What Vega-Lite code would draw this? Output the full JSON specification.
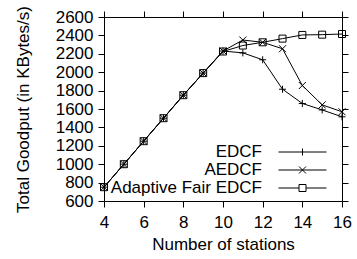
{
  "$schema": "https://vega.github.io/schema/vega-lite/v6.json",
  "width": 238,
  "height": 184,
  "autosize": {"type": "none"},
  "padding": {"left": 104, "top": 17, "right": 15, "bottom": 58},
  "background": "white",
  "config": {
    "view": {"stroke": "black", "strokeWidth": 1},
    "font": "Liberation Sans",
    "axis": {
      "zindex": 1,
      "domain": false,
      "grid": false,
      "ticks": true,
      "tickColor": "black",
      "tickWidth": 1,
      "tickSize": 6,
      "labelFlush": false,
      "labelFont": "Liberation Sans",
      "labelFontSize": 17,
      "labelColor": "black",
      "titleFont": "Liberation Sans",
      "titleFontSize": 17,
      "titleFontWeight": "normal",
      "titleColor": "black"
    },
    "legend": {
      "labelFont": "Liberation Sans",
      "labelFontSize": 17,
      "labelColor": "black"
    }
  },
  "data": {
    "values": [
      {"stations": 4, "series": "EDCF", "goodput": 750},
      {"stations": 5, "series": "EDCF", "goodput": 1000},
      {"stations": 6, "series": "EDCF", "goodput": 1250},
      {"stations": 7, "series": "EDCF", "goodput": 1500},
      {"stations": 8, "series": "EDCF", "goodput": 1750},
      {"stations": 9, "series": "EDCF", "goodput": 1990},
      {"stations": 10, "series": "EDCF", "goodput": 2230},
      {"stations": 11, "series": "EDCF", "goodput": 2210},
      {"stations": 12, "series": "EDCF", "goodput": 2135},
      {"stations": 13, "series": "EDCF", "goodput": 1815},
      {"stations": 14, "series": "EDCF", "goodput": 1660},
      {"stations": 15, "series": "EDCF", "goodput": 1590},
      {"stations": 16, "series": "EDCF", "goodput": 1515},
      {"stations": 4, "series": "AEDCF", "goodput": 750},
      {"stations": 5, "series": "AEDCF", "goodput": 1000},
      {"stations": 6, "series": "AEDCF", "goodput": 1250},
      {"stations": 7, "series": "AEDCF", "goodput": 1500},
      {"stations": 8, "series": "AEDCF", "goodput": 1750},
      {"stations": 9, "series": "AEDCF", "goodput": 1990},
      {"stations": 10, "series": "AEDCF", "goodput": 2230},
      {"stations": 11, "series": "AEDCF", "goodput": 2350},
      {"stations": 12, "series": "AEDCF", "goodput": 2325},
      {"stations": 13, "series": "AEDCF", "goodput": 2255},
      {"stations": 14, "series": "AEDCF", "goodput": 1855},
      {"stations": 15, "series": "AEDCF", "goodput": 1645},
      {"stations": 16, "series": "AEDCF", "goodput": 1570},
      {"stations": 4, "series": "Adaptive Fair EDCF", "goodput": 750},
      {"stations": 5, "series": "Adaptive Fair EDCF", "goodput": 1000},
      {"stations": 6, "series": "Adaptive Fair EDCF", "goodput": 1250},
      {"stations": 7, "series": "Adaptive Fair EDCF", "goodput": 1500},
      {"stations": 8, "series": "Adaptive Fair EDCF", "goodput": 1750},
      {"stations": 9, "series": "Adaptive Fair EDCF", "goodput": 1990},
      {"stations": 10, "series": "Adaptive Fair EDCF", "goodput": 2225},
      {"stations": 11, "series": "Adaptive Fair EDCF", "goodput": 2290},
      {"stations": 12, "series": "Adaptive Fair EDCF", "goodput": 2325},
      {"stations": 13, "series": "Adaptive Fair EDCF", "goodput": 2365},
      {"stations": 14, "series": "Adaptive Fair EDCF", "goodput": 2405},
      {"stations": 15, "series": "Adaptive Fair EDCF", "goodput": 2408},
      {"stations": 16, "series": "Adaptive Fair EDCF", "goodput": 2415}
    ]
  },
  "layer": [
    {
      "mark": {"type": "line", "color": "black", "strokeWidth": 1},
      "encoding": {
        "x": {
          "field": "stations", "type": "quantitative",
          "scale": {"domain": [4, 16], "nice": false},
          "axis": {"values": [4, 6, 8, 10, 12, 14, 16], "title": "Number of stations", "labelPadding": 7, "titlePadding": 6,
                   "encode": {"ticks": {"update": {"y2": {"value": -6}}}}}
        },
        "y": {
          "field": "goodput", "type": "quantitative",
          "scale": {"domain": [600, 2600], "nice": false},
          "axis": {"values": [600, 800, 1000, 1200, 1400, 1600, 1800, 2000, 2200, 2400, 2600], "format": "d", "title": "Total Goodput (in KBytes/s)", "labelPadding": 5, "titlePadding": 23,
                   "encode": {"ticks": {"update": {"x2": {"value": 6}}}}}
        },
        "detail": {"field": "series", "type": "nominal"}
      }
    },
    {
      "mark": {"type": "point", "filled": false, "stroke": "black", "strokeWidth": 1, "opacity": 1},
      "encoding": {
        "x": {
          "field": "stations", "type": "quantitative",
          "scale": {"domain": [4, 16], "nice": false},
          "axis": {"orient": "top", "values": [4, 6, 8, 10, 12, 14, 16], "labels": false, "title": null,
                   "encode": {"ticks": {"update": {"y2": {"value": 6}}}}}
        },
        "y": {
          "field": "goodput", "type": "quantitative",
          "scale": {"domain": [600, 2600], "nice": false},
          "axis": {"orient": "right", "values": [600, 800, 1000, 1200, 1400, 1600, 1800, 2000, 2200, 2400, 2600], "labels": false, "title": null,
                   "encode": {"ticks": {"update": {"x2": {"value": -6}}}}}
        },
        "shape": {
          "field": "series", "type": "nominal",
          "scale": {
            "domain": ["EDCF", "AEDCF", "Adaptive Fair EDCF"],
            "range": ["M-1,0H1M0,-1V1", "M-1,-1L1,1M-1,1L1,-1", "M-1,-1H1V1H-1Z"]
          },
          "legend": null
        },
        "size": {"value": 49}
      }
    },
    {
      "transform": [{"filter": "datum.stations > 100"}],
      "mark": {"type": "point", "filled": false, "stroke": "black", "strokeWidth": 1, "opacity": 1},
      "encoding": {
        "x": {
          "field": "stations", "type": "quantitative",
          "scale": {"domain": [4, 16], "nice": false},
          "axis": null
        },
        "y": {
          "field": "goodput", "type": "quantitative",
          "scale": {"domain": [600, 2600], "nice": false},
          "axis": null
        },
        "shape": {
          "field": "series", "type": "nominal",
          "scale": {
            "domain": ["EDCF", "AEDCF", "Adaptive Fair EDCF"],
            "range": ["M-6.86,0H6.86M0,-1V1", "M-6.86,0H6.86M-1,-1L1,1M-1,1L1,-1", "M-6.86,0H-1M1,0H6.86M-1,-1H1V1H-1Z"]
          },
          "legend": {
            "title": null,
            "orient": "none",
            "legendX": 190,
            "legendY": 126.5,
            "padding": 0,
            "symbolSize": 49,
            "symbolStrokeColor": "black",
            "symbolFillColor": "transparent",
            "symbolStrokeWidth": 1,
            "symbolOpacity": 1,
            "rowPadding": 0,
            "labelAlign": "right",
            "labelOffset": -49
          }
        },
        "size": {"value": 49}
      }
    }
  ],
  "resolve": {"axis": {"x": "independent", "y": "independent"}, "scale": {"shape": "independent"}}
}
